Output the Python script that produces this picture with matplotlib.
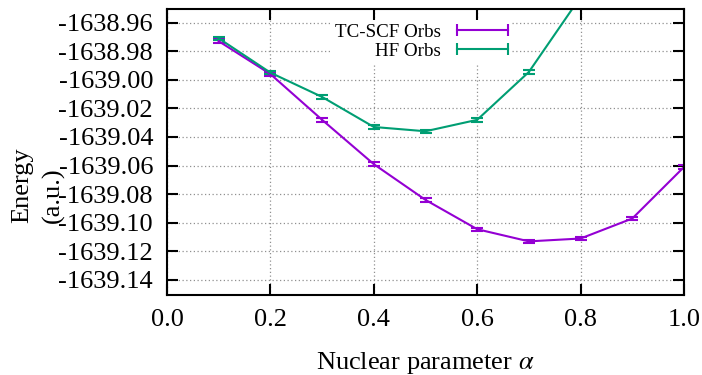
import matplotlib
matplotlib.use('Agg')
import matplotlib.pyplot as plt
from matplotlib.lines import Line2D
from matplotlib.legend_handler import HandlerLine2D
import numpy as np

# nuclear parameter alpha
alpha = [0.1, 0.2, 0.3, 0.4, 0.5, 0.6, 0.7, 0.8, 0.9, 1.0]
tc_energy = [-1638.973, -1638.996, -1639.028, -1639.059, -1639.084,
             -1639.1045, -1639.113, -1639.111, -1639.097, -1639.061]
tc_err = [0.0012] * 10

alpha_hf = [0.1, 0.2, 0.3, 0.4, 0.5, 0.6, 0.7, 0.8]
hf_energy = [-1638.971, -1638.995, -1639.012, -1639.033, -1639.036,
             -1639.028, -1638.9945, -1638.942]
hf_err = [0.0012] * 8

xticks = [0.0, 0.2, 0.4, 0.6, 0.8, 1.0]
yticks = np.arange(-1639.14, -1638.955, 0.02)

purple = '#9400d3'
green = '#009e73'

plt.rcParams['font.family'] = ['Liberation Serif', 'DejaVu Serif']
plt.rcParams['mathtext.fontset'] = 'stix'

fig = plt.figure(figsize=(7.02, 3.75), dpi=100)
ax = fig.add_axes([167/702, 1 - 295/375, (684 - 167)/702, (295 - 9)/375])

ax.errorbar(alpha, tc_energy, yerr=tc_err, color=purple, lw=1.5,
            capsize=4, capthick=1.5, elinewidth=1.5)
ax.errorbar(alpha_hf, hf_energy, yerr=hf_err, color=green, lw=1.5,
            capsize=4, capthick=1.5, elinewidth=1.5)

ax.set_xlim(0, 1)
ax.set_ylim(-1639.1505, -1638.9505)
ax.set_xticks(xticks)
ax.set_xticklabels(['%.1f' % v for v in xticks])
ax.set_yticks(yticks)
ax.set_yticklabels(['%.2f' % v for v in yticks])
ax.tick_params(direction='in', length=8, width=1.5, labelsize=19, pad=10,
               top=True, right=True)
for s in ax.spines.values():
    s.set_linewidth(1.5)
ax.grid(True, linestyle=(0, (1, 2)), color='#909090', lw=0.9)
ax.set_axisbelow(True)

ax.set_xlabel(r'Nuclear parameter $\alpha$', fontsize=19, labelpad=14)
fig.text(38/702, 1 - 223/375, 'Energy\n(a.u.)', rotation=90, fontsize=19,
         ha='center', va='bottom', multialignment='left', linespacing=1.5)

handles = [Line2D([], [], color=purple, lw=1.5, marker='|', ms=9, mew=1.5),
           Line2D([], [], color=green, lw=1.5, marker='|', ms=9, mew=1.5)]
leg = ax.legend(handles, ['TC-SCF Orbs', 'HF Orbs'], loc='upper right',
                bbox_to_anchor=(512/702, 1 - 20/375), bbox_transform=fig.transFigure,
                numpoints=2, markerfirst=False, fontsize=13.7, handlelength=2.7,
                handletextpad=0.84, labelspacing=0.08, borderpad=0.2,
                borderaxespad=0, frameon=True, fancybox=False,
                handler_map={Line2D: HandlerLine2D(marker_pad=0)})
leg.get_frame().set_facecolor('white')
leg.get_frame().set_edgecolor('none')
leg.get_frame().set_alpha(1)

fig.savefig('out.png', dpi=100)
